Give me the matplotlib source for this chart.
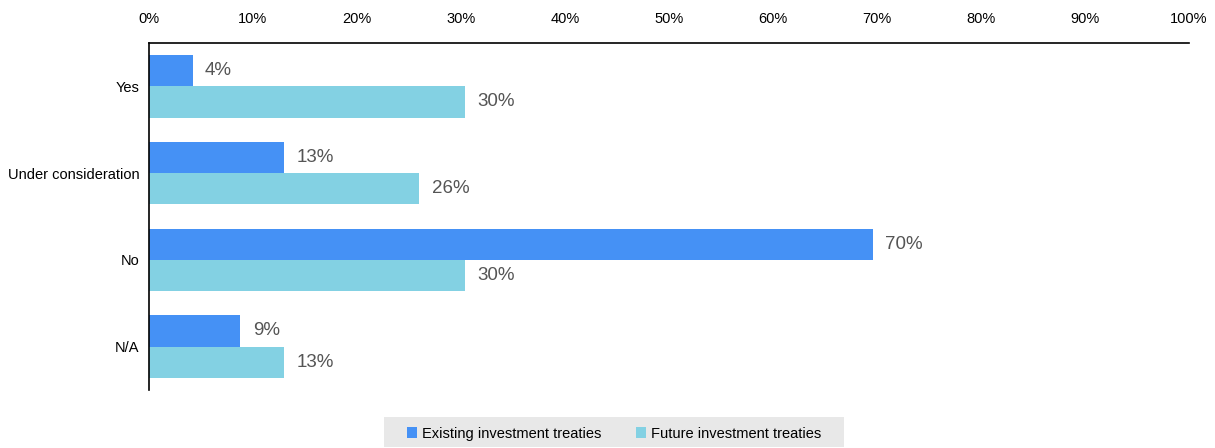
import matplotlib
matplotlib.use("Agg")
import matplotlib.pyplot as plt
from matplotlib.patches import Rectangle
import numpy as np

categories = ["Yes", "Under consideration", "No", "N/A"]
existing = [4.2, 13, 69.6, 8.8]
future = [30.4, 26, 30.4, 13]
existing_labels = ["4%", "13%", "70%", "9%"]
future_labels = ["30%", "26%", "30%", "13%"]
xticks = [0, 10, 20, 30, 40, 50, 60, 70, 80, 90, 100]
series_names = ["Existing investment treaties", "Future investment treaties"]

plt.rcParams['font.family'] = ['Liberation Sans', 'DejaVu Sans']

fig = plt.figure(figsize=(12.15, 4.48), dpi=100)
ax = fig.add_axes([0.1226, 0.1295, 0.9786 - 0.1226, 0.904 - 0.1295])

y = np.arange(len(categories))
h = 0.36
c1 = "#4591F5"
c2 = "#83D1E3"
b1 = ax.barh(y - h / 2, existing, height=h, color=c1, label=series_names[0])
b2 = ax.barh(y + h / 2, future, height=h, color=c2, label=series_names[1])

for bars, labs in ((b1, existing_labels), (b2, future_labels)):
    for bar, lab in zip(bars, labs):
        ax.text(bar.get_width() + 1.2, bar.get_y() + bar.get_height() / 2, lab,
                va="center", ha="left", fontsize=13.5, color="#555555",
                family=['Liberation Sans Narrow', 'Liberation Sans', 'DejaVu Sans'])

ax.set_xlim(0, 100)
ax.set_ylim(3.5, -0.5)
ax.xaxis.tick_top()
ax.set_xticks(xticks)
ax.set_xticklabels([f"{t}%" for t in xticks], fontsize=10.5)
ax.set_yticks(y)
ax.set_yticklabels(categories, fontsize=10.5)
ax.tick_params(axis="y", length=0, pad=7)
ax.tick_params(axis="x", length=0, pad=12)
for s in ("right", "bottom"):
    ax.spines[s].set_visible(False)
for s in ("top", "left"):
    ax.spines[s].set_linewidth(1.2)
    ax.spines[s].set_color("black")

# legend background box
fig.patches.append(Rectangle((384 / 1215, 1 / 448), 460 / 1215, 30 / 448,
                             transform=fig.transFigure, facecolor="#E8E8E8",
                             edgecolor="none", zorder=0))
leg = fig.legend(handles=[b1, b2], loc="center", bbox_to_anchor=(0.5055, 0.032), ncol=2,
                 frameon=False, fontsize=10.5, handlelength=0.7, handleheight=0.7,
                 handletextpad=0.3, columnspacing=2.4, borderpad=0.0,
                 borderaxespad=0.0)

fig.savefig("out.png", dpi=100)
